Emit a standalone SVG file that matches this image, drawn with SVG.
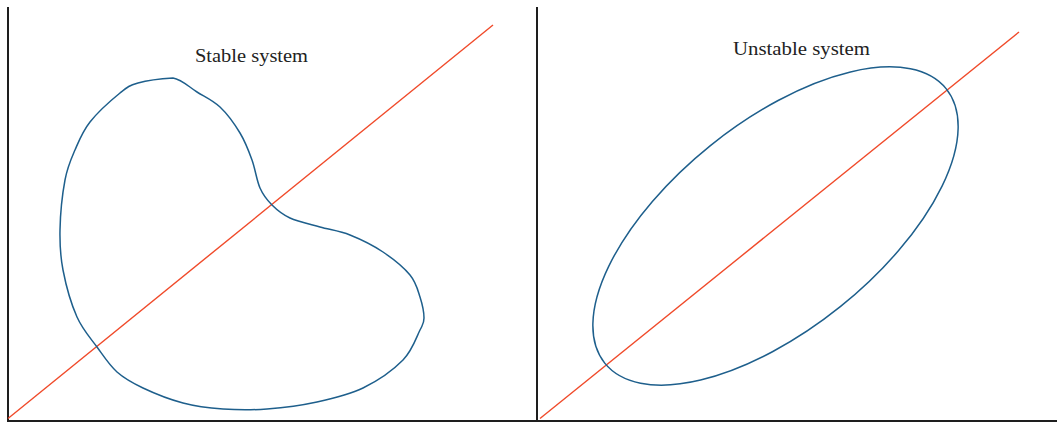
<svg xmlns="http://www.w3.org/2000/svg" width="1057" height="423" viewBox="0 0 1057 423">
<style>
.axis{stroke:#1e1e1e;stroke-width:2;fill:none}
.ref{stroke:#f04a2a;stroke-width:1.4;fill:none}
.curve{stroke:#1e5f8c;stroke-width:1.5;fill:none}
.title{font-family:"Liberation Serif","DejaVu Serif",serif;font-size:19.5px;fill:#222}
</style>
<rect width="1057" height="423" fill="#fff"/>
<g id="axes">
<line class="axis" x1="8" y1="7" x2="8" y2="421"/>
<line class="axis" x1="537" y1="7" x2="537" y2="421"/>
<line class="axis" x1="7" y1="421" x2="1057" y2="421"/>
</g>
<g id="stable-panel">
<line class="ref" x1="8" y1="418.5" x2="493" y2="25"/>
<path class="curve" d="M173,78 C182,79.5 189.2,87.2 197,92 C204.8,96.8 212.8,100.2 220,107 C227.2,113.8 234.7,124.2 240,133 C245.3,141.8 248.7,150.8 252,160 C255.3,169.2 256.7,180.5 260,188 C263.3,195.5 267,200 272,205 C277,210 282,214.3 290,218 C298,221.7 310,224.2 320,227 C330,229.8 339.5,230.8 350,235 C360.5,239.2 373,245.3 383,252 C393,258.7 403.8,267.5 410,275 C416.2,282.5 417.7,289.8 420,297 C422.3,304.2 424,312.5 424,318 C424,323.5 423.5,323 420,330 C416.5,337 412.5,350.3 403,360 C393.5,369.7 377.3,381 363,388 C348.7,395 333,398.5 317,402 C301,405.5 282.7,407.8 267,409 C251.3,410.2 237,410 223,409 C209,408 196.3,406.5 183,403 C169.7,399.5 154,393.2 143,388 C132,382.8 124.7,378.8 117,372 C109.3,365.2 103.7,356.2 97,347 C90.3,337.8 82.7,329.8 77,317 C71.3,304.2 65.8,284.5 63,270 C60.2,255.5 59.7,245 60,230 C60.3,215 62.5,193.3 65,180 C67.5,166.7 70.8,159.7 75,150 C79.2,140.3 82.5,131.5 90,122 C97.5,112.5 112,99.5 120,93 C128,86.5 129.2,85.5 138,83 C146.8,80.5 164.2,78.5 173,78 Z"/>
<text class="title" x="195" y="62" textLength="113" lengthAdjust="spacingAndGlyphs">Stable system</text>
</g>
<g id="unstable-panel">
<line class="ref" x1="540" y1="418.5" x2="1019" y2="32"/>
<ellipse class="curve" cx="775.5" cy="226" rx="219" ry="103.5" transform="rotate(-38.76 775.5 226)"/>
<text class="title" x="733" y="54.5" textLength="137" lengthAdjust="spacingAndGlyphs">Unstable system</text>
</g>
</svg>
